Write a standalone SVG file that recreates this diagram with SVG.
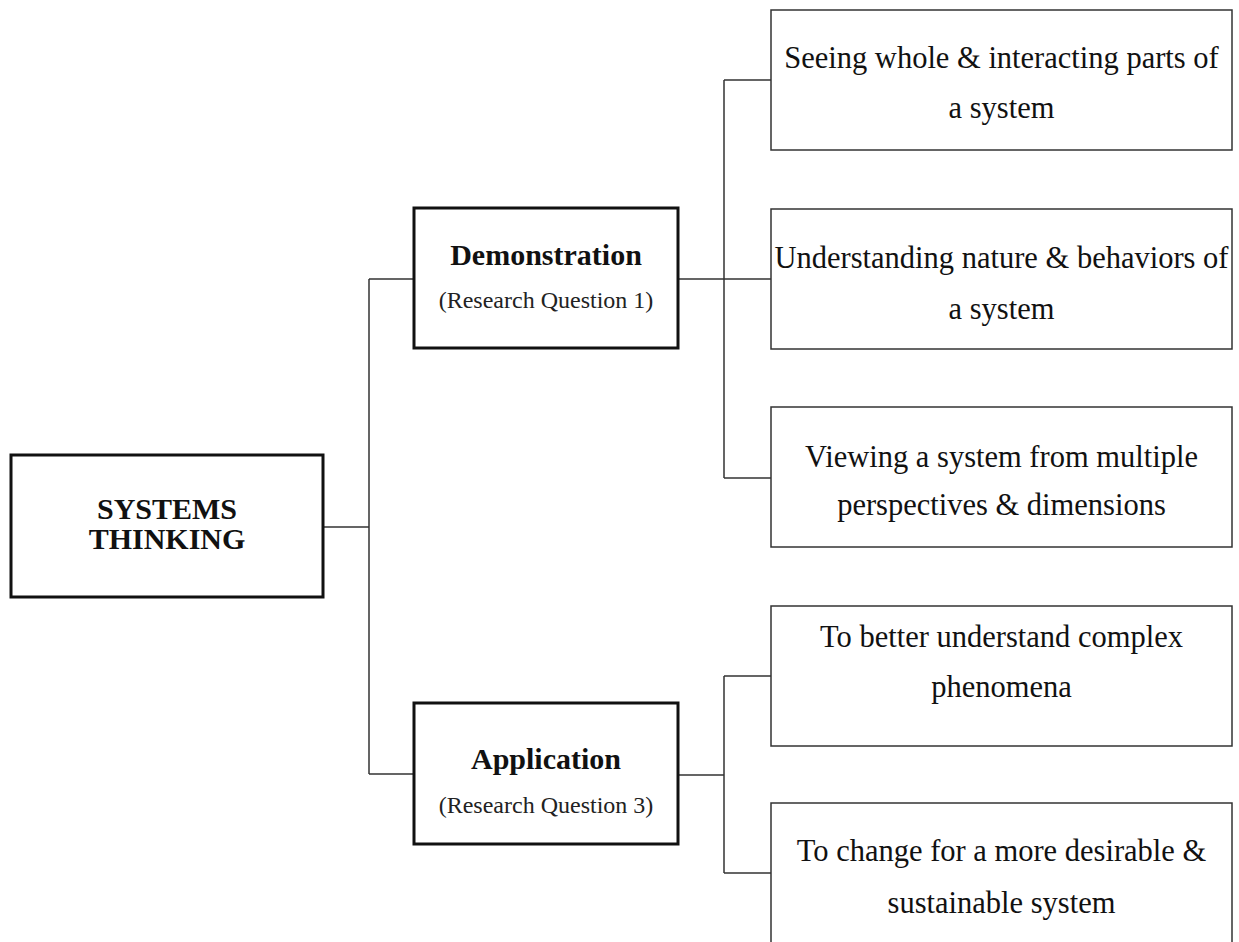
<svg xmlns="http://www.w3.org/2000/svg" width="1239" height="942" viewBox="0 0 1239 942">
<style>
.main{fill:#fff;stroke:#111;stroke-width:3}
.leaf{fill:#fff;stroke:#333;stroke-width:1.5}
.conn{fill:none;stroke:#333;stroke-width:1.5}
.b{font-family:"Liberation Serif","Times New Roman",serif;font-weight:bold;font-size:30px;fill:#111;text-anchor:middle}
.s{font-family:"Liberation Serif","Times New Roman",serif;font-size:24px;fill:#222;text-anchor:middle}
.t{font-family:"Liberation Serif","Times New Roman",serif;font-size:30.5px;fill:#111;text-anchor:middle}
</style>
<rect width="1239" height="942" fill="#fff"/>
<g id="connectors">
<path class="conn" d="M323,527 H369 M369,279 V774 M369,279 H414 M369,774 H414"/>
<path class="conn" d="M678,279 H771 M724,80 V478 M724,80 H771 M724,478 H771"/>
<path class="conn" d="M678,775 H724 M724,676 V873 M724,676 H771 M724,873 H771"/>
</g>
<g id="systems-thinking">
<rect class="main" x="11" y="455" width="312" height="142"/>
<text class="b" x="167" y="519">SYSTEMS</text>
<text class="b" x="167" y="549">THINKING</text>
</g>
<g id="demonstration">
<rect class="main" x="414" y="208" width="264" height="140"/>
<text class="b" x="546" y="265">Demonstration</text>
<text class="s" x="546" y="308">(Research Question 1)</text>
</g>
<g id="application">
<rect class="main" x="414" y="703" width="264" height="141"/>
<text class="b" x="546" y="769">Application</text>
<text class="s" x="546" y="813">(Research Question 3)</text>
</g>
<g id="seeing-whole">
<rect class="leaf" x="771" y="10" width="461" height="140"/>
<text class="t" x="1001.5" y="68">Seeing whole &amp; interacting parts of</text>
<text class="t" x="1001.5" y="118">a system</text>
</g>
<g id="understanding-nature">
<rect class="leaf" x="771" y="209" width="461" height="140"/>
<text class="t" x="1001.5" y="268">Understanding nature &amp; behaviors of</text>
<text class="t" x="1001.5" y="319">a system</text>
</g>
<g id="viewing-system">
<rect class="leaf" x="771" y="407" width="461" height="140"/>
<text class="t" x="1001.5" y="467">Viewing a system from multiple</text>
<text class="t" x="1001.5" y="515">perspectives &amp; dimensions</text>
</g>
<g id="better-understand">
<rect class="leaf" x="771" y="606" width="461" height="140"/>
<text class="t" x="1001.5" y="647">To better understand complex</text>
<text class="t" x="1001.5" y="697">phenomena</text>
</g>
<g id="change-system">
<rect class="leaf" x="771" y="803" width="461" height="150"/>
<text class="t" x="1001.5" y="861">To change for a more desirable &amp;</text>
<text class="t" x="1001.5" y="913">sustainable system</text>
</g>
</svg>
